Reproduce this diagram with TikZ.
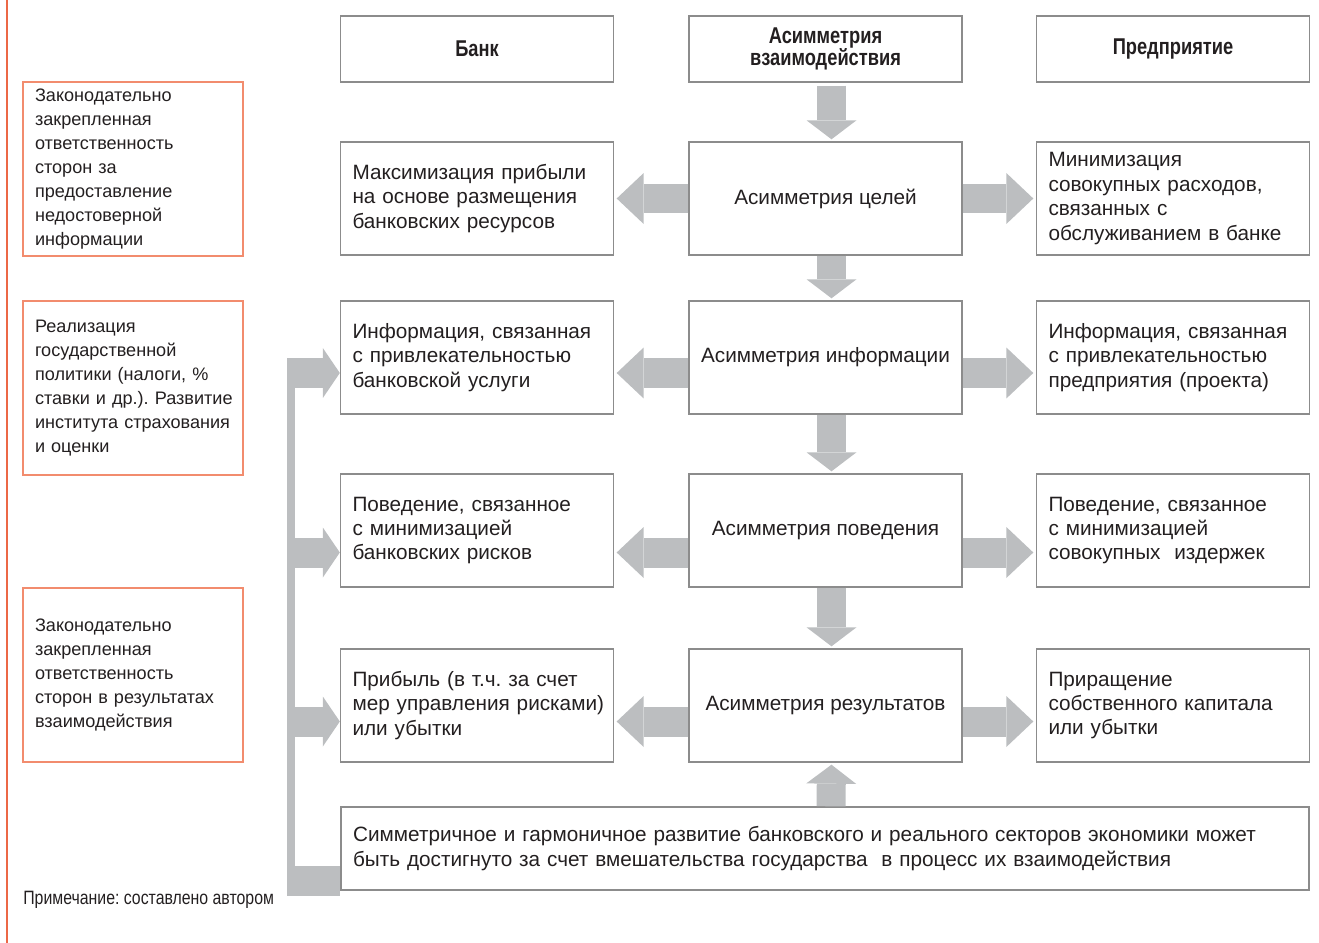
\documentclass[tikz,border=0pt]{standalone}
\usepackage{fontspec}
\setmainfont{Liberation Sans}
\newfontfamily\headfont[FakeStretch=0.8]{Liberation Sans}
\newfontfamily\notefont[FakeStretch=0.82]{Liberation Sans}
\usetikzlibrary{arrows.meta}
\definecolor{boxgray}{RGB}{140,140,140}
\definecolor{redline}{RGB}{236,104,70}
\definecolor{redbox}{RGB}{242,140,110}
\definecolor{arrgray}{RGB}{188,190,192}
\definecolor{txt}{RGB}{35,31,32}
\frenchspacing

\begin{document}
\begin{tikzpicture}[x=0.02cm, y=-0.02cm,
	every node/.style={text=txt},
	hbox/.style={draw=boxgray, line width=0.8pt, minimum width=5.46cm, minimum height=1.32cm, align=center, font=\headfont\bfseries\fontsize{13}{12.5}\selectfont},
	sbox/.style={draw=boxgray, line width=0.8pt, text width=4.98cm, inner xsep=0.24cm, minimum height=2.26cm, align=left, font=\fontsize{11.8}{13.9}\selectfont, execute at begin node={\rightskip=0pt plus 1fil minus 1cm}},
	cbox/.style={draw=boxgray, line width=0.8pt, minimum width=5.46cm, minimum height=2.26cm, align=center, font=\fontsize{11.8}{13.9}\selectfont},
	rbox/.style={draw=redbox, line width=0.8pt, text width=3.92cm, inner xsep=0.24cm, minimum height=3.48cm, align=left, font=\fontsize{10.3}{13.6}\selectfont, execute at begin node={\rightskip=0pt plus 1fil minus 1cm}},
	bigarr/.style={draw=arrgray, line width=0.6cm, -{Triangle[length=0.54cm, width=1.02cm, line width=0pt]}, shorten >=0.05cm},
	downarr/.style={draw=arrgray, line width=0.58cm, -{Triangle[length=0.38cm, width=1cm, line width=0pt]}, shorten >=0.04cm},
	sidearr/.style={draw=arrgray, line width=0.6cm, -{Triangle[length=0.34cm, width=1cm, line width=0pt]}}]
	\useasboundingbox (0,0) rectangle (1319,943);
	%\draw[help lines] (0,0) grid[step=1cm] (1319,943);
	\draw[redline, line width=1.2pt] (7,0) -- (7,943);
	% header
	\node[hbox] (hB) at (477,49) {Банк};
	\node[hbox] (hA) at (825.5,49) {Асимметрия\\взаимодействия};
	\node[hbox] (hP) at (1173,49) {Предприятие};
	% rows
	\node[sbox] (bI) at (477,198.5) {Максимизация прибыли\\на основе размещения\\банковских ресурсов};
	\node[cbox] (aI) at (825.5,198.5) {Асимметрия целей};
	\node[sbox] (pI) at (1173,198.5) {Минимизация\\совокупных расходов,\\связанных с\\обслуживанием в банке};
	\node[sbox] (bII) at (477,357.5) {Информация, связанная\\с привлекательностью\\банковской услуги};
	\node[cbox] (aII) at (825.5,357.5) {Асимметрия информации};
	\node[sbox] (pII) at (1173,357.5) {Информация, связанная\\с привлекательностью\\предприятия (проекта)};
	\node[sbox] (bIII) at (477,530.5) {Поведение, связанное\\с минимизацией\\банковских рисков};
	\node[cbox] (aIII) at (825.5,530.5) {Асимметрия поведения};
	\node[sbox] (pIII) at (1173,530.5) {Поведение, связанное\\с минимизацией\\совокупных\ \ издержек};
	\node[sbox] (bIV) at (477,705.5) {Прибыль (в т.ч. за счет\\мер управления рисками)\\или убытки};
	\node[cbox] (aIV) at (825.5,705.5) {Асимметрия результатов};
	\node[sbox] (pIV) at (1173,705.5) {Приращение\\собственного капитала\\или убытки};
	\node[sbox, text width=18.88cm, minimum height=1.66cm] (sym) at (825,848.5) {Симметричное и гармоничное развитие банковского и реального секторов экономики может\\быть достигнуто за счет вмешательства государства\ \ в процесс их взаимодействия};
	% left column
	\node[rbox] (rI) at (133,169) {Законодательно\\закрепленная\\ответственность\\сторон за\\предоставление\\недостоверной\\информации};
	\node[rbox] (rII) at (133,388) {Реализация\\государственной\\политики (налоги, \%\\ставки и др.). Развитие\\института страхования\\и оценки};
	\node[rbox] (rIII) at (133,675) {Законодательно\\закрепленная\\ответственность\\сторон в результатах\\взаимодействия};
	\node[anchor=west, inner sep=0pt, font=\notefont\fontsize{11}{12}\selectfont] (note) at (23,900) {Примечание: составлено автором};
	% arrows
	\coordinate (l2) at (0,373);
	\coordinate (l3) at (0,552.5);
	\coordinate (l4) at (0,721.5);
	\coordinate (brk) at (295,0);
	\draw[bigarr] (aI.west) -- (bI.east);
	\draw[bigarr] (aI.east) -- (pI.west);
	\foreach \r/\l in {II/l2, III/l3, IV/l4} {
		\draw[bigarr] (\l -| a\r.west) -- (\l -| b\r.east);
		\draw[bigarr] (\l -| a\r.east) -- (\l -| p\r.west);
		\draw[sidearr] (\l -| brk) -- (\l -| b\r.west);
	}
	\draw[downarr] ([xshift=0.12cm,yshift=-0.06cm]hA.south) -- ([xshift=0.12cm]aI.north);
	\foreach \a/\b in {aI/aII, aII/aIII, aIII/aIV}
		\draw[downarr] ([xshift=0.12cm]\a.south) -- ([xshift=0.12cm]\b.north);
	\draw[downarr] ([xshift=0.12cm]sym.north) -- ([xshift=0.12cm]aIV.south);
	\fill[arrgray] (287,358) rectangle (295,895);
	\fill[arrgray] (287,866) rectangle ([yshift=-0.1cm]sym.south west);
\end{tikzpicture}
\end{document}
